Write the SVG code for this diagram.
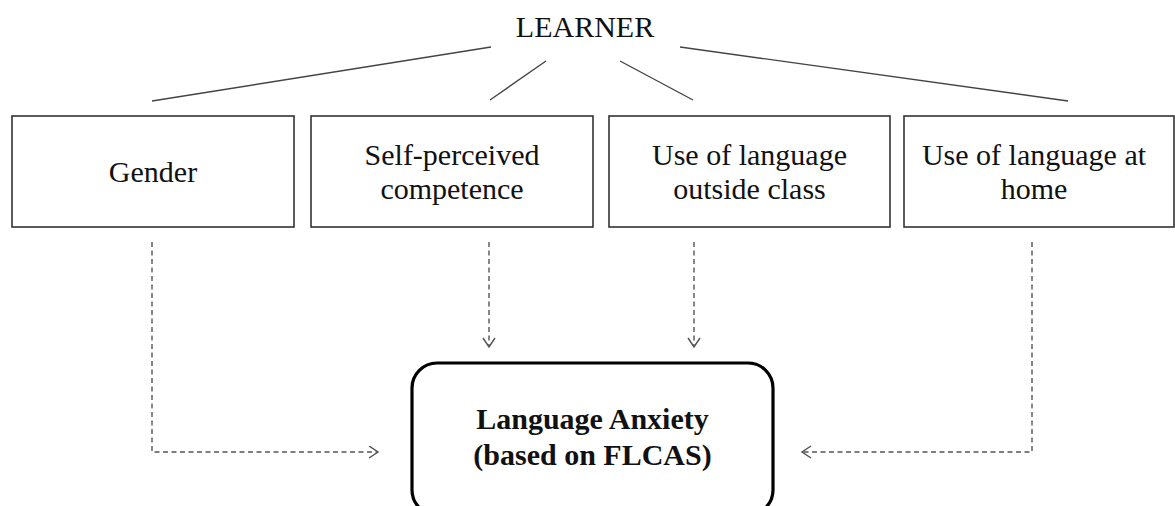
<svg xmlns="http://www.w3.org/2000/svg" width="1175" height="506" viewBox="0 0 1175 506">
<style>
.box{fill:#fff;stroke:#333;stroke-width:1.6}
.main{fill:#fff;stroke:#000;stroke-width:3.2}
.t{font-family:"Liberation Serif","Times New Roman",serif;font-size:30px;fill:#111;text-anchor:middle}
.b{font-weight:bold}
.ln{stroke:#444;stroke-width:1.4;fill:none}
.dash{stroke:#555;stroke-width:1.4;fill:none;stroke-dasharray:5 3.5;marker-end:url(#ah)}
</style>
<defs>
<marker id="ah" markerUnits="userSpaceOnUse" markerWidth="14" markerHeight="14" refX="10" refY="6.5" orient="auto">
<path d="M1,0.5 L10,6.5 L1,12.5" fill="none" stroke="#555" stroke-width="1.5"/>
</marker>
</defs>
<rect width="1175" height="506" fill="#fff"/>
<g id="connectors">
<line class="ln" x1="491" y1="47" x2="152" y2="101"/>
<line class="ln" x1="546" y1="61" x2="490" y2="100"/>
<line class="ln" x1="620" y1="61" x2="693" y2="100"/>
<line class="ln" x1="680" y1="47" x2="1068" y2="101"/>
<path class="dash" d="M152,242 V452 H378"/>
<path class="dash" d="M489,242 V347"/>
<path class="dash" d="M694,242 V347"/>
<path class="dash" d="M1032,242 V452 H802"/>
</g>
<g id="learner">
<text class="t" x="585" y="37">LEARNER</text>
</g>
<g id="gender">
<rect class="box" x="12" y="116" width="282" height="111"/>
<text class="t" x="153" y="182">Gender</text>
</g>
<g id="self-perceived">
<rect class="box" x="311" y="116" width="282" height="111"/>
<text class="t" x="452" y="165">Self-perceived</text>
<text class="t" x="452" y="199">competence</text>
</g>
<g id="outside-class">
<rect class="box" x="609" y="116" width="281" height="111"/>
<text class="t" x="749.5" y="165">Use of language</text>
<text class="t" x="749.5" y="199">outside class</text>
</g>
<g id="at-home">
<rect class="box" x="904" y="116" width="270" height="111"/>
<text class="t" x="1034" y="165">Use of language at</text>
<text class="t" x="1034" y="199">home</text>
</g>
<g id="anxiety">
<rect class="main" x="412" y="363" width="361" height="152" rx="25" ry="25"/>
<text class="t b" x="592.5" y="429">Language Anxiety</text>
<text class="t b" x="592.5" y="465">(based on FLCAS)</text>
</g>
</svg>
